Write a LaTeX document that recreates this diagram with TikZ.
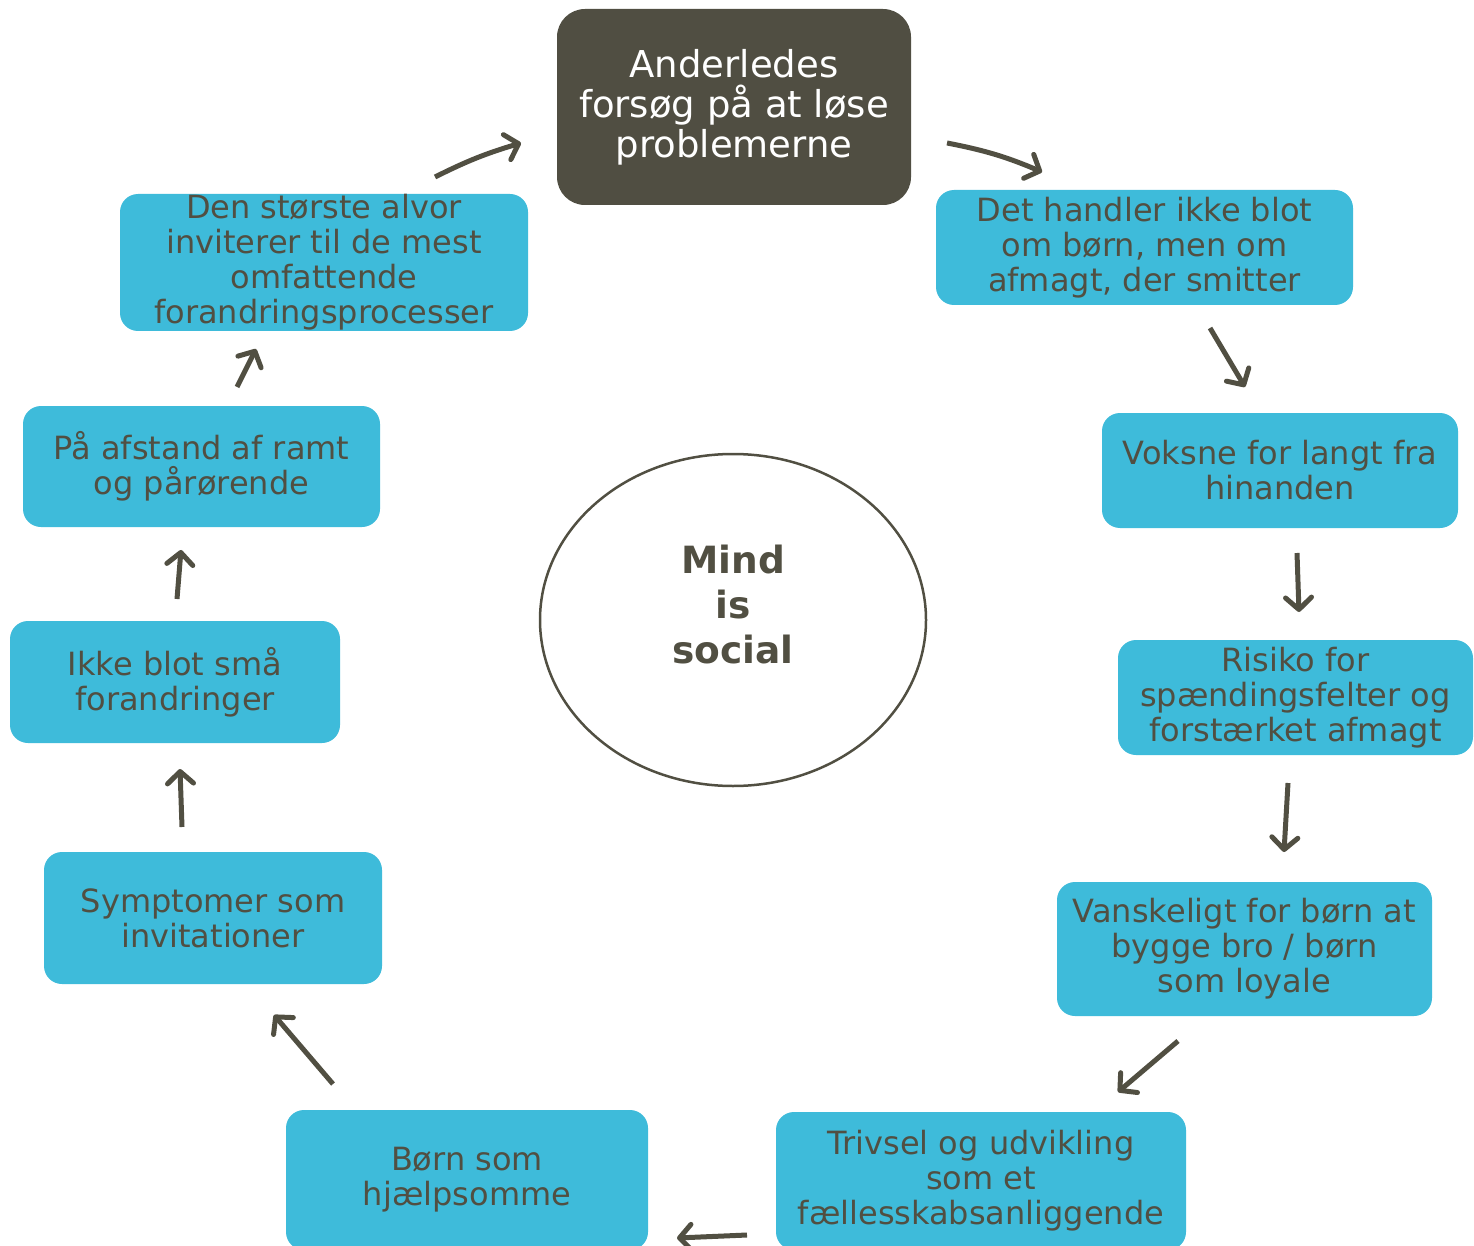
\documentclass[tikz,border=0pt]{standalone}
\usepackage{fontspec}
\setmainfont{DejaVu Sans}
\usepackage{xcolor}
\definecolor{boxblue}{HTML}{3EBBDA}
\definecolor{ink}{HTML}{514F42}
\definecolor{darkbox}{HTML}{504E42}
\usepackage{tikz}
\usetikzlibrary{arrows.meta}
\usetikzlibrary{shapes.geometric}

\begin{document}
\begin{tikzpicture}[x=1pt,y=-1pt,
    box/.style={fill=boxblue,text=ink,rounded corners=18pt,align=center,inner sep=0pt,font=\fontsize{32}{35}\selectfont},
    arr/.style={draw=ink,line width=5pt,-{Straight Barb[length=12pt,width=26pt,round]}}]
          \useasboundingbox (0,0) rectangle (1474,1246);
          \node[box,fill=darkbox,text=white,rounded corners=28pt,minimum width=354pt,minimum height=196pt,font=\fontsize{37}{40}\selectfont](top) at (734,107) {Anderledes\\forsøg på at løse\\problemerne};
          \node[box,minimum width=417pt,minimum height=115pt](b1) at (1144.5,247.5) {Det handler ikke blot\\om børn, men om\\afmagt, der smitter};
          \node[box,minimum width=356pt,minimum height=115pt](b2) at (1280,470.5) {Voksne for langt fra\\hinanden};
          \node[box,minimum width=355pt,minimum height=115pt](b3) at (1295.5,697.5) {Risiko for\\spændingsfelter og\\forstærket afmagt};
          \node[box,minimum width=375pt,minimum height=134pt](b4) at (1244.5,949) {Vanskeligt for børn at\\bygge bro / børn\\som loyale};
          \node[box,minimum width=410pt,minimum height=138pt](b5) at (981,1181) {Trivsel og udvikling\\som et\\fællesskabsanliggende};
          \node[box,minimum width=362pt,minimum height=140pt](b6) at (467,1180) {Børn som\\hjælpsomme};
          \node[box,minimum width=338pt,minimum height=132pt](b7) at (213,918) {Symptomer som\\invitationer};
          \node[box,minimum width=330pt,minimum height=122pt](b8) at (175,682) {Ikke blot små\\forandringer};
          \node[box,minimum width=357pt,minimum height=121pt](b9) at (201.5,466.5) {På afstand af ramt\\og pårørende};
          \node[box,minimum width=408pt,minimum height=137pt](b10) at (324,262.5) {Den største alvor\\inviterer til de mest\\omfattende\\forandringsprocesser};
          \node[ellipse,draw=ink,line width=2.5pt,minimum width=386pt,minimum height=332pt](mind) at (733,620) {};
          \node[text=ink,align=center,font=\bfseries\fontsize{37.5}{45}\selectfont](mindtext) at (733,605) {Mind\\is\\social};
          \coordinate (s1) at (947,143);
          \coordinate (e1) at (1042,172);
          \coordinate (s2) at (1210,328);
          \coordinate (e2) at (1245,387);
          \coordinate (s3) at (1297,553);
          \coordinate (e3) at (1299,612);
          \coordinate (s4) at (1288,783);
          \coordinate (e4) at (1284,852);
          \coordinate (s5) at (1178,1041);
          \coordinate (e5) at (1118,1092);
          \coordinate (s6) at (747,1235);
          \coordinate (e6) at (677,1238);
          \coordinate (s7) at (333,1084);
          \coordinate (e7) at (274,1015);
          \coordinate (s8) at (182,827);
          \coordinate (e8) at (180,769);
          \coordinate (s9) at (177,599);
          \coordinate (e9) at (181,550);
          \coordinate (s10) at (237,387);
          \coordinate (e10) at (256,349);
          \coordinate (s11) at (435,177);
          \coordinate (e11) at (521,143);
          \draw[arr] (s1) to[bend left=6] (e1);
          \draw[arr] (s2) -- (e2);
          \draw[arr] (s3) -- (e3);
          \draw[arr] (s4) -- (e4);
          \draw[arr] (s5) -- (e5);
          \draw[arr] (s6) -- (e6);
          \draw[arr] (s7) -- (e7);
          \draw[arr] (s8) -- (e8);
          \draw[arr] (s9) -- (e9);
          \draw[arr] (s10) -- (e10);
          \draw[arr] (s11) to[bend left=5] (e11);
      \end{tikzpicture}
\end{document}
